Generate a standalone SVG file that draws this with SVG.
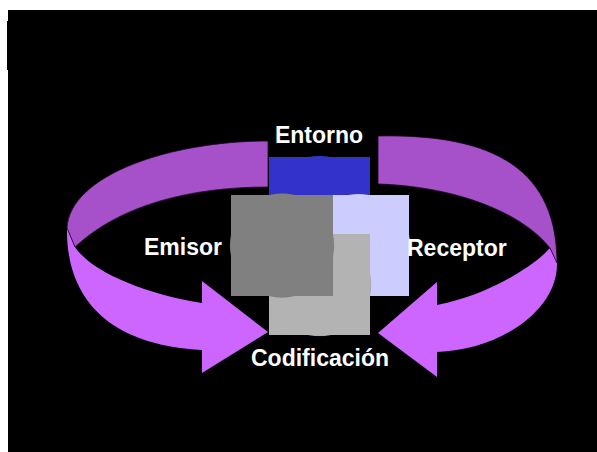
<svg xmlns="http://www.w3.org/2000/svg" width="597" height="452" viewBox="0 0 597 452">
<style>
.lbl{font-family:"Liberation Sans",Arial,sans-serif;font-weight:bold;font-size:23px;fill:#FFFFFF}
.up{fill:#A650C9;stroke:#1a0a22;stroke-width:0.8}
.low{fill:#CC66FF}
.ring{stroke:#666666;stroke-width:0.5;stroke-opacity:0.3}
</style>
<rect x="0" y="0" width="597" height="452" fill="#FFFFFF"/>
<rect x="8" y="10" width="589" height="442" fill="#000000"/>
<rect x="7" y="21" width="2" height="49" fill="#000000"/>
<g id="connectors">
  <path class="low" d="M67,228 C66,300 110,345 202,350 L202,373 L268,332 L202,281 L202,303 C140,293 90,270 75,247 Z"/>
  <path class="up" d="M268,141 C170,141 70,175 67,228 L75,247 C120,205 190,187 268,187 Z"/>
  <path class="low" d="M557,263 C558,310 500,350 437,352 L437,377 L378,333 L437,282 L437,305 C490,295 535,265 550,248 Z"/>
  <path class="up" d="M378,136 C480,134 557,160 557,263 L550,248 C520,210 450,186 378,184 Z"/>
</g>
<g id="entorno">
  <circle class="ring" cx="319.5" cy="207.5" r="51.6" fill="#3333CC"/>
  <rect x="269" y="157" width="101" height="101" fill="#3333CC"/>
  <text class="lbl" x="319" y="143" text-anchor="middle">Entorno</text>
</g>
<g id="receptor">
  <circle class="ring" cx="358.5" cy="245.5" r="51.6" fill="#CCCCFF"/>
  <rect x="308" y="195" width="101" height="101" fill="#CCCCFF"/>
  <text class="lbl" x="407" y="256">Receptor</text>
</g>
<g id="codificacion">
  <circle class="ring" cx="319.5" cy="284.5" r="51.6" fill="#B3B3B3"/>
  <rect x="269" y="234" width="101" height="101" fill="#B3B3B3"/>
  <text class="lbl" x="320" y="366" text-anchor="middle">Codificación</text>
</g>
<g id="emisor">
  <circle class="ring" cx="282" cy="245.5" r="52" fill="#808080"/>
  <rect x="231" y="195" width="102" height="101" fill="#808080"/>
  <text class="lbl" x="144" y="255">Emisor</text>
</g>
</svg>
